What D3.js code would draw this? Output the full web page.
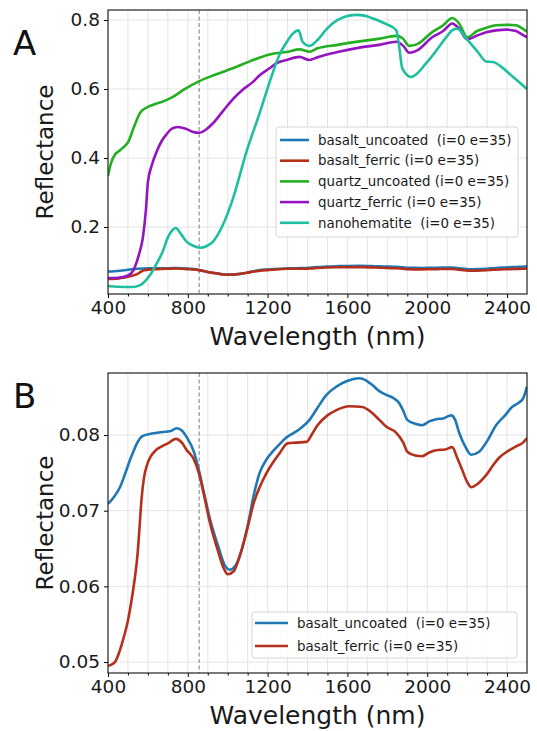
<!DOCTYPE html>
<html>
<head>
<meta charset="utf-8">
<script src="https://cdn.jsdelivr.net/npm/d3@7"></script>
<style>
  body { margin: 0; background: #fff; }
  svg { display: block; font-family: "DejaVu Sans", sans-serif; }
  text { white-space: pre; }
</style>
</head>
<body>
<div id="chart"></div>
<script>
// data: [wavelength nm, reflectance]
const basaltUncoated = [
  [400,0.0709],[430,0.0718],[460,0.0731],[490,0.0752],[510,0.0767],[530,0.0780],[545,0.0789],
  [575,0.0799],[620,0.0802],[675,0.0804],[710,0.0805],[745,0.0809],[770,0.0806],[795,0.0797],
  [830,0.0778],[855,0.0754],[880,0.0725],[910,0.0690],[950,0.0655],[985,0.0628],[1010,0.0622],
  [1040,0.0628],[1070,0.0648],[1100,0.0680],[1130,0.0720],[1160,0.0750],[1195,0.0768],
  [1225,0.0778],[1260,0.0788],[1295,0.0797],[1350,0.0806],[1410,0.0820],[1450,0.0836],
  [1495,0.0853],[1545,0.0864],[1595,0.0871],[1660,0.0875],[1700,0.0871],[1725,0.0866],
  [1760,0.0858],[1795,0.0853],[1830,0.0849],[1860,0.0842],[1880,0.0832],[1900,0.0820],
  [1940,0.0815],[1975,0.0813],[2010,0.0818],[2045,0.0821],[2080,0.0822],[2120,0.0826],
  [2140,0.0820],[2160,0.0803],[2190,0.0785],[2220,0.0774],[2260,0.0778],[2300,0.0792],
  [2345,0.0813],[2390,0.0826],[2425,0.0837],[2460,0.0843],[2480,0.0848],[2500,0.0864]
];
const basaltFerric = [
  [400,0.0495],[420,0.0497],[435,0.0500],[455,0.0512],[475,0.0529],[500,0.0555],[520,0.0585],
  [535,0.0612],[548,0.0642],[558,0.0678],[568,0.0715],[580,0.0743],[595,0.0760],[615,0.0772],
  [640,0.0780],[670,0.0785],[700,0.0789],[740,0.0795],[770,0.0790],[795,0.0780],[830,0.0768],
  [855,0.0750],[880,0.0722],[910,0.0685],[950,0.0648],[980,0.0624],[1000,0.0616],[1030,0.0620],
  [1060,0.0640],[1100,0.0678],[1130,0.0710],[1160,0.0731],[1195,0.0750],[1225,0.0763],
  [1260,0.0776],[1300,0.0789],[1340,0.0790],[1395,0.0791],[1420,0.0800],[1450,0.0813],
  [1500,0.0826],[1545,0.0833],[1610,0.0838],[1675,0.0837],[1720,0.0830],[1760,0.0820],
  [1795,0.0811],[1845,0.0803],[1880,0.0790],[1900,0.0778],[1940,0.0773],[1975,0.0772],
  [2010,0.0777],[2045,0.0780],[2090,0.0781],[2125,0.0784],[2150,0.0770],[2175,0.0754],
  [2200,0.0738],[2220,0.0731],[2250,0.0735],[2295,0.0747],[2330,0.0760],[2360,0.0770],
  [2400,0.0778],[2445,0.0785],[2480,0.0790],[2500,0.0796]
];
const quartzUncoated = [
  [400,0.348],[415,0.385],[435,0.410],[455,0.420],[475,0.430],[500,0.445],[530,0.490],
  [560,0.530],[590,0.545],[620,0.553],[680,0.565],[725,0.577],[780,0.598],[855,0.622],
  [940,0.642],[1025,0.660],[1110,0.680],[1210,0.700],[1300,0.708],[1360,0.715],[1410,0.708],
  [1450,0.718],[1550,0.728],[1660,0.738],[1760,0.746],[1845,0.754],[1875,0.748],[1910,0.725],
  [1950,0.730],[2025,0.765],[2080,0.785],[2125,0.806],[2160,0.790],[2200,0.750],[2250,0.768],
  [2300,0.778],[2345,0.785],[2400,0.786],[2445,0.785],[2470,0.778],[2500,0.766]
];
const quartzFerric = [
  [400,0.052],[450,0.053],[500,0.060],[520,0.068],[535,0.085],[555,0.120],[575,0.170],
  [590,0.250],[600,0.330],[620,0.380],[645,0.420],[670,0.450],[695,0.470],[720,0.485],
  [750,0.490],[790,0.485],[830,0.475],[855,0.473],[890,0.482],[925,0.500],[975,0.535],
  [1025,0.570],[1075,0.598],[1125,0.620],[1160,0.640],[1210,0.660],[1245,0.675],[1300,0.685],
  [1360,0.693],[1410,0.684],[1450,0.692],[1550,0.707],[1660,0.720],[1760,0.728],[1845,0.737],
  [1880,0.725],[1910,0.705],[1950,0.712],[2025,0.750],[2080,0.768],[2125,0.790],[2160,0.775],
  [2200,0.744],[2250,0.755],[2300,0.765],[2345,0.770],[2400,0.772],[2445,0.768],[2470,0.760],
  [2500,0.750]
];
const nanohematite = [
  [400,0.029],[450,0.027],[525,0.026],[555,0.030],[575,0.037],[610,0.060],[645,0.095],
  [675,0.130],[700,0.170],[725,0.192],[740,0.197],[765,0.180],[795,0.157],[830,0.145],
  [860,0.140],[895,0.145],[925,0.157],[975,0.205],[1025,0.280],[1095,0.420],[1160,0.530],
  [1210,0.620],[1260,0.700],[1300,0.740],[1325,0.760],[1355,0.770],[1375,0.737],[1410,0.725],
  [1450,0.742],[1490,0.770],[1525,0.790],[1580,0.808],[1645,0.815],[1690,0.812],[1725,0.805],
  [1760,0.797],[1795,0.788],[1845,0.770],[1860,0.720],[1875,0.660],[1920,0.635],[1995,0.675],
  [2050,0.715],[2095,0.750],[2125,0.770],[2150,0.775],[2195,0.747],[2250,0.710],[2295,0.680],
  [2330,0.678],[2370,0.665],[2420,0.640],[2460,0.620],[2500,0.600]
];

const seriesNames = ["basalt_uncoated  (i=0 e=35)", "basalt_ferric (i=0 e=35)",
  "quartz_uncoated (i=0 e=35)", "quartz_ferric (i=0 e=35)", "nanohematite  (i=0 e=35)"];
const seriesColors = ["#1f77b4", "#b5301a", "#22b020", "#9414bf", "#1dbf9f"];

const xTicks = [400, 800, 1200, 1600, 2000, 2400];
const yTicksA = [0.2, 0.4, 0.6, 0.8];
const yTicksB = [0.05, 0.06, 0.07, 0.08];
const markerWl = 857;

//size
const width = 537, height = 731;
const svg = d3.select("#chart").append("svg").attr("width", width).attr("height", height);

drawPanel({
  label: "A", top: 10, bottom: 294, yDomain: [0.0058, 0.829], yTicks: yTicksA, yFmt: d3.format(".1f"),
  series: [basaltUncoated, basaltFerric, quartzUncoated, quartzFerric, nanohematite],
  idx: [0, 1, 2, 3, 4],
  legend: { x: 276, y: 127, w: 242, h: 110, row: 20.7, first: 140, handle: [280, 309], text: 318 }
});
drawPanel({
  label: "B", top: 373, bottom: 673, yDomain: [0.04855, 0.0882], yTicks: yTicksB, yFmt: d3.format(".2f"),
  series: [basaltUncoated, basaltFerric],
  idx: [0, 1],
  legend: { x: 252, y: 612, w: 265, h: 46, row: 23, first: 623, handle: [255, 288], text: 297 }
});

function drawPanel(cfg) {
  const left = 108, right = 527;
  const x = d3.scaleLinear().domain([400, 2500]).range([left, right]);
  const y = d3.scaleLinear().domain(cfg.yDomain).range([cfg.bottom, cfg.top]);
  const g = svg.append("g");

  //grid
  g.append("g").selectAll("line").data(d3.range(500, 2500, 100)).join("line")
    .attr("x1", d => x(d)).attr("x2", d => x(d))
    .attr("y1", cfg.top).attr("y2", cfg.bottom)
    .attr("stroke", "#e4e4e4").attr("stroke-width", 1);
  g.append("g").selectAll("line").data(cfg.yTicks).join("line")
    .attr("x1", left).attr("x2", right)
    .attr("y1", d => y(d)).attr("y2", d => y(d))
    .attr("stroke", "#e4e4e4").attr("stroke-width", 1);

  //dashed marker
  g.append("line")
    .attr("x1", x(markerWl)).attr("x2", x(markerWl))
    .attr("y1", cfg.top).attr("y2", cfg.bottom)
    .attr("stroke", "#9a9a9a").attr("stroke-width", 1.3).attr("stroke-dasharray", "4,2.5");

  //lines
  const line = d3.line().x(d => x(d[0])).y(d => y(d[1])).curve(d3.curveMonotoneX);
  const clipId = "clip" + cfg.label;
  g.append("clipPath").attr("id", clipId).append("rect")
    .attr("x", left).attr("y", cfg.top).attr("width", right - left).attr("height", cfg.bottom - cfg.top);
  g.append("g").attr("clip-path", `url(#${clipId})`)
    .selectAll("path").data(cfg.series).join("path")
    .attr("d", line)
    .attr("fill", "none")
    .attr("stroke", (d, i) => seriesColors[cfg.idx[i]])
    .attr("stroke-width", 2.6)
    .attr("stroke-linejoin", "round");

  //axes
  g.append("g").attr("transform", `translate(0,${cfg.bottom})`)
    .call(d3.axisBottom(x).tickValues(xTicks).tickSize(4).tickPadding(3).tickFormat(d3.format("d")));
  g.append("g").attr("transform", `translate(0,${cfg.bottom})`)
    .call(d3.axisBottom(x).tickValues(d3.range(500, 2500, 100).filter(v => !xTicks.includes(v)))
      .tickSize(2.5).tickFormat(""));
  g.append("g").attr("transform", `translate(${left},0)`)
    .call(d3.axisLeft(y).tickValues(cfg.yTicks).tickSize(4).tickPadding(4).tickFormat(cfg.yFmt));
  g.selectAll(".tick text").attr("font-size", 18.5).attr("fill", "#1a1a1a")
    .attr("font-family", "DejaVu Sans, sans-serif");
  g.selectAll(".domain").remove();
  g.append("rect")
    .attr("x", left).attr("y", cfg.top).attr("width", right - left).attr("height", cfg.bottom - cfg.top)
    .attr("fill", "none").attr("stroke", "#222").attr("stroke-width", 1.2);

  //labels
  g.append("text").attr("x", (left + right) / 2).attr("y", cfg.bottom + 51)
    .attr("text-anchor", "middle").attr("font-size", 25).attr("fill", "#1a1a1a")
    .text("Wavelength (nm)");
  g.append("text")
    .attr("transform", `translate(53,${(cfg.top + cfg.bottom) / 2}) rotate(-90)`)
    .attr("text-anchor", "middle").attr("font-size", 23).attr("fill", "#1a1a1a")
    .text("Reflectance");
  g.append("text").attr("x", 13).attr("y", cfg.top + (cfg.label === "A" ? 45 : 35))
    .attr("font-size", 34).attr("fill", "#111").text(cfg.label);

  //legend
  const L = cfg.legend;
  const lg = g.append("g");
  lg.append("rect").attr("x", L.x).attr("y", L.y).attr("width", L.w).attr("height", L.h)
    .attr("rx", 3).attr("fill", "#fff").attr("fill-opacity", 0.85)
    .attr("stroke", "#d6d6d6").attr("stroke-width", 1);
  const rows = lg.selectAll("g.row").data(cfg.idx).join("g").attr("class", "row")
    .attr("transform", (d, i) => `translate(0,${L.first + i * L.row})`);
  rows.append("line").attr("x1", L.handle[0]).attr("x2", L.handle[1])
    .attr("stroke", d => seriesColors[d]).attr("stroke-width", 2.6);
  rows.append("text").attr("x", L.text).attr("dy", "0.35em")
    .attr("font-size", 13.4).attr("fill", "#1a1a1a")
    .text(d => seriesNames[d]);
}
</script>
</body>
</html>
